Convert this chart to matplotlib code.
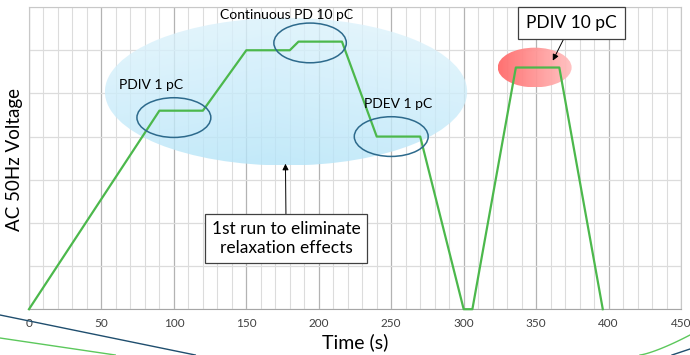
import numpy as np
import matplotlib
matplotlib.use("Agg")
import matplotlib.pyplot as plt
from matplotlib.patches import Ellipse
from matplotlib.lines import Line2D

plt.rcParams['font.family'] = ['Lato', 'DejaVu Sans']

# voltage profile (time in s, voltage in grid units)
time_s = [0, 90, 120, 150, 180, 186, 216, 240, 270, 300, 306, 336, 366, 396]
voltage = [0, 4.6, 4.6, 6.0, 6.0, 6.2, 6.2, 4.0, 4.0, 0, 0, 5.6, 5.6, 0]

x_ticks = [0, 50, 100, 150, 200, 250, 300, 350, 400, 450]

# marked regions: (x centre, y centre, width, height)
pdiv1_ell = (100, 4.44, 51, 0.92)
cont_ell = (194, 6.17, 50, 0.92)
pdev_ell = (250, 4.0, 51, 0.92)
pdiv10_ell = (349, 5.6, 51, 0.92)
relax_ell = (177.4, 5.04, 250, 3.42)

fig = plt.figure(figsize=(6.9, 3.55), dpi=100)
ax = fig.add_axes([0.042, 0.129, 0.945, 0.851])

ax.set_xlim(0, 450)
ax.set_ylim(0, 7)
ax.set_xticks(x_ticks)
ax.set_xticks(np.arange(0, 451, 10), minor=True)
ax.set_yticks(range(0, 8))
ax.set_yticklabels([])
ax.grid(which='major', axis='x', color='#b3b3b3', lw=0.9)
ax.grid(which='minor', axis='x', color='#dcdcdc', lw=0.8)
ax.grid(which='major', axis='y', color='#dcdcdc', lw=0.9)
ax.tick_params(which='both', length=0)
ax.tick_params(axis='x', labelsize=8.5, labelcolor='#404040', pad=6)
for s in ax.spines.values():
    s.set_color('#c8c8c8')
ax.spines['bottom'].set_color('#a6a6a6')
ax.set_axisbelow(True)


def grad_ellipse(e, img, alpha, z):
    cx, cy, w, h = e
    patch = Ellipse((cx, cy), w, h, facecolor='none', edgecolor='none')
    ax.add_patch(patch)
    im = ax.imshow(img, extent=[cx - w / 2, cx + w / 2, cy - h / 2, cy + h / 2],
                   aspect='auto', alpha=alpha, zorder=z, interpolation='bilinear',
                   origin='lower')
    im.set_clip_path(patch)


def mix(c1, c2, t):
    a = np.array(matplotlib.colors.to_rgb(c1))
    b = np.array(matplotlib.colors.to_rgb(c2))
    return a * (1 - t[..., None]) + b * t[..., None]


# blue: darker toward the bottom-centre, lighter to the top and right
gx, gy = np.meshgrid(np.linspace(0, 1, 120), np.linspace(0, 1, 60))
tb = np.clip(0.75 * gy + 0.35 * np.abs(gx - 0.45), 0, 1)
grad_ellipse(relax_ell, mix('#b4e4f8', '#e6f6fd', tb), 0.8, 1)
# red: darker on the left
tr = np.clip(gx, 0, 1)
grad_ellipse(pdiv10_ell, mix('#ff6a6a', '#ffc0c0', tr), 0.95, 1)
ax.set_xlim(0, 450)
ax.set_ylim(0, 7)

ax.plot(time_s, voltage, color='#4cb84c', lw=1.6, zorder=3, clip_on=False)

for e in (pdiv1_ell, cont_ell, pdev_ell):
    ax.add_patch(Ellipse((e[0], e[1]), e[2], e[3], facecolor='none',
                         edgecolor='#2d6a8c', lw=1.1, zorder=4))

ax.text(84, 5.2, 'PDIV 1 pC', fontsize=10, ha='center', va='center', zorder=5)
ax.text(178, 6.82, 'Continuous PD 10 pC', fontsize=10, ha='center', va='center', zorder=5)
ax.text(255, 4.76, 'PDEV 1 pC', fontsize=10, ha='center', va='center', zorder=5)

ax.annotate('PDIV 10 pC', xy=(361.5, 5.76), xytext=(374.5, 6.63),
            fontsize=12.5, ha='center', va='center', zorder=6,
            bbox=dict(boxstyle='square,pad=0.45', fc='white', ec='#404040', lw=0.9),
            arrowprops=dict(arrowstyle='-|>', color='black', lw=0.7,
                            mutation_scale=9, shrinkA=0, shrinkB=0))
ax.annotate('1st run to eliminate\nrelaxation effects', xy=(177, 3.37), xytext=(177.5, 1.63),
            fontsize=12.5, ha='center', va='center', zorder=6, linespacing=1.25,
            bbox=dict(boxstyle='square,pad=0.4', fc='white', ec='#404040', lw=0.9),
            arrowprops=dict(arrowstyle='-|>', color='black', lw=0.7,
                            mutation_scale=9, shrinkA=0, shrinkB=0))

fig.text(0.0217, 0.552, 'AC 50Hz Voltage', rotation=90, fontsize=13.5,
         ha='center', va='center')
fig.text(0.515, 0.035, 'Time (s)', fontsize=14, ha='center', va='center')

# slide decoration lines at the bottom corners
fig.add_artist(Line2D([0.0, 0.283], [1 - 315 / 355, 0.0], color='#1f4e6e', lw=1.0))
fig.add_artist(Line2D([0.0, 0.167], [1 - 338 / 355, 0.0], color='#5cc85c', lw=1.0))
xx = np.linspace(640, 690, 30)
yy = 355 - 20 * ((xx - 640) / 50) ** 1.3
fig.add_artist(Line2D(xx / 690, 1 - yy / 355, color='#5cc85c', lw=1.0))
xx2 = np.linspace(672, 690, 10)
yy2 = 355 - 6 * ((xx2 - 672) / 18)
fig.add_artist(Line2D(xx2 / 690, 1 - yy2 / 355, color='#1f4e6e', lw=1.0))

fig.savefig('out.png', dpi=100)
